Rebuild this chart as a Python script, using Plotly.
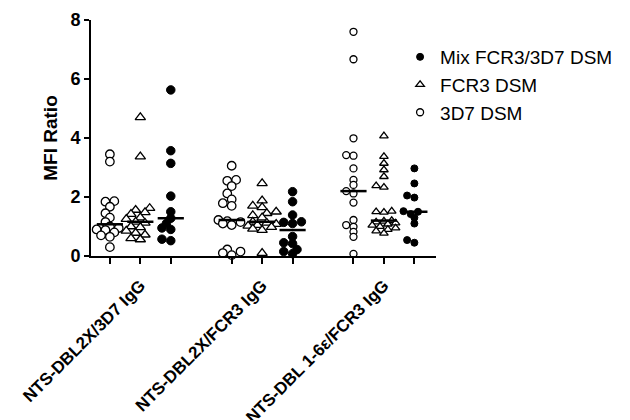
import numpy as np
import plotly.graph_objects as go

# ---------------- data ----------------
group_labels = ["NTS-DBL2X/3D7 IgG", "NTS-DBL2X/FCR3 IgG", "NTS-DBL 1-6ε/FCR3 IgG"]
series_names = ["3D7 DSM", "FCR3 DSM", "Mix FCR3/3D7 DSM"]

g1_3d7 = [3.45, 3.2, 1.86, 1.84, 1.67, 1.45, 1.3, 1.15, 1.0, 0.95, 0.9, 0.88, 0.8, 0.7, 0.65, 0.3]
g1_fcr3 = [4.7, 3.37, 1.62, 1.56, 1.48, 1.42, 1.3, 1.25, 1.16, 1.12, 1.0, 0.97, 0.85, 0.78, 0.72, 0.6, 0.56]
g1_mix = [5.63, 3.57, 3.14, 2.03, 1.5, 1.28, 1.1, 0.95, 0.9, 0.57, 0.52]

g2_3d7 = [3.06, 2.58, 2.55, 2.37, 2.12, 1.92, 1.79, 1.7, 1.22, 1.18, 1.15, 1.1, 1.05, 0.22, 0.15, 0.1, 0.03]
g2_fcr3 = [2.46, 1.88, 1.7, 1.65, 1.5, 1.45, 1.38, 1.3, 1.16, 1.12, 1.08, 1.05, 1.02, 0.98, 0.92, 0.88, 0.1]
g2_mix = [2.18, 1.84, 1.39, 1.16, 1.14, 1.1, 0.66, 0.45, 0.42, 0.22, 0.15, 0.08]

g3_3d7 = [7.6, 6.67, 3.99, 3.42, 3.4, 2.97, 2.58, 2.41, 2.2, 2.12, 1.81, 1.22, 1.05, 0.99, 0.82, 0.65, 0.07]
g3_fcr3 = [4.07, 3.37, 3.14, 2.92, 2.69, 2.38, 2.33, 1.52, 1.5, 1.48, 1.2, 1.18, 1.15, 1.12, 1.08, 1.04,
           1.0, 0.95, 0.9, 0.85, 0.77]
g3_mix = [2.97, 2.46, 2.05, 1.98, 1.52, 1.5, 1.42, 1.3, 1.1, 0.54, 0.45]

y_ticks = [0, 2, 4, 6, 8]

groups = [
    [g1_3d7, g1_fcr3, g1_mix],
    [g2_3d7, g2_fcr3, g2_mix],
    [g3_3d7, g3_fcr3, g3_mix],
]

# ---------------- layout constants ----------------
W, H = 630, 420
ML, MR, MT, MB = 91, 174, 20, 164
XR = [-0.62, 10.71]
YR = [0, 8]
xpx = (W - ML - MR) / (XR[1] - XR[0])
ypx = (H - MT - MB) / (YR[1] - YR[0])

styles = {
    0: dict(symbol="circle", color="white", line=dict(color="black", width=1.3)),
    1: dict(symbol="triangle-up", color="white", line=dict(color="black", width=1.3)),
    2: dict(symbol="circle", color="black", line=dict(color="black", width=1)),
}
sizes = [[8.5, 9, 8.5], [8.5, 9, 8.5], [7, 7.5, 7]]
legend_rank = {2: 1, 1: 2, 0: 3}


def swarm(vals, diam):
    vals = np.asarray(vals, dtype=float)
    order = np.argsort(vals)
    placed = []
    offs = np.zeros(len(vals))
    step = diam * 0.55
    cands = [0.0]
    for j in range(1, 4):
        cands += [-j * step, j * step]
    for i in order:
        y = vals[i] * ypx
        best, best_d = 0.0, -1
        chosen = None
        for c in cands:
            dmin = min([((c - px) ** 2 + (y - py) ** 2) ** 0.5 for px, py in placed] + [1e9])
            if dmin >= diam * 0.7:
                chosen = c
                break
            if dmin > best_d:
                best, best_d = c, dmin
        if chosen is None:
            chosen = best
        placed.append((chosen, y))
        offs[i] = chosen / xpx
    return offs


fig = go.Figure()
med_x, med_y = [], []
for g, grp in enumerate(groups):
    for s, vals in enumerate(grp):
        pos = 4 * g + s
        size = sizes[g][s]
        offs = swarm(vals, size)
        st = styles[s]
        fig.add_trace(go.Scatter(
            x=pos + offs, y=vals, mode="markers", cliponaxis=False,
            name=series_names[s], legendgroup=series_names[s],
            showlegend=(g == 2), legendrank=legend_rank[s],
            marker=dict(symbol=st["symbol"], size=size, color=st["color"], line=st["line"]),
        ))
        m = float(np.median(vals))
        med_x += [pos - 0.43, pos + 0.43, None]
        med_y += [m, m, None]

fig.add_trace(go.Scatter(x=med_x, y=med_y, mode="lines", showlegend=False,
                         line=dict(color="black", width=2.5), cliponaxis=False))

tickvals = [4 * g + s for g in range(3) for s in range(3)]
ticktext = []
for g in range(3):
    ticktext += ["", group_labels[g], ""]

font_family = "Liberation Sans, Arial, sans-serif"
fig.update_layout(
    width=W, height=H,
    margin=dict(l=ML, r=MR, t=MT, b=MB, pad=0),
    paper_bgcolor="white", plot_bgcolor="white",
    font=dict(family=font_family, color="black"),
    showlegend=True,
    legend=dict(x=(418 - ML) / (W - ML - MR), y=(H - MB - 38) / (H - MT - MB), xanchor="left", yanchor="top",
                bgcolor="rgba(0,0,0,0)", font=dict(size=19, family=font_family),
                tracegroupgap=0, itemwidth=30),
    xaxis=dict(range=XR, showline=True, linecolor="black", linewidth=2,
               ticks="outside", ticklen=6, tickwidth=2, tickcolor="black",
               tickvals=tickvals, ticktext=ticktext, tickangle=-45, automargin=False,
               ticklabelstandoff=5,
               tickfont=dict(size=17, weight="bold", family=font_family),
               showgrid=False, zeroline=False),
    yaxis=dict(range=YR, showline=True, linecolor="black", linewidth=2,
               ticks="outside", ticklen=5, tickwidth=2, tickcolor="black", automargin=False,
               tickvals=y_ticks, tickfont=dict(size=18, weight="bold", family=font_family),
               title=dict(text="MFI Ratio", font=dict(size=19, weight="bold", family=font_family), standoff=8),
               showgrid=False, zeroline=False),
)

fig.write_html("out.html", config={"displayModeBar": False},
               post_script="document.body.style.margin='0';")
